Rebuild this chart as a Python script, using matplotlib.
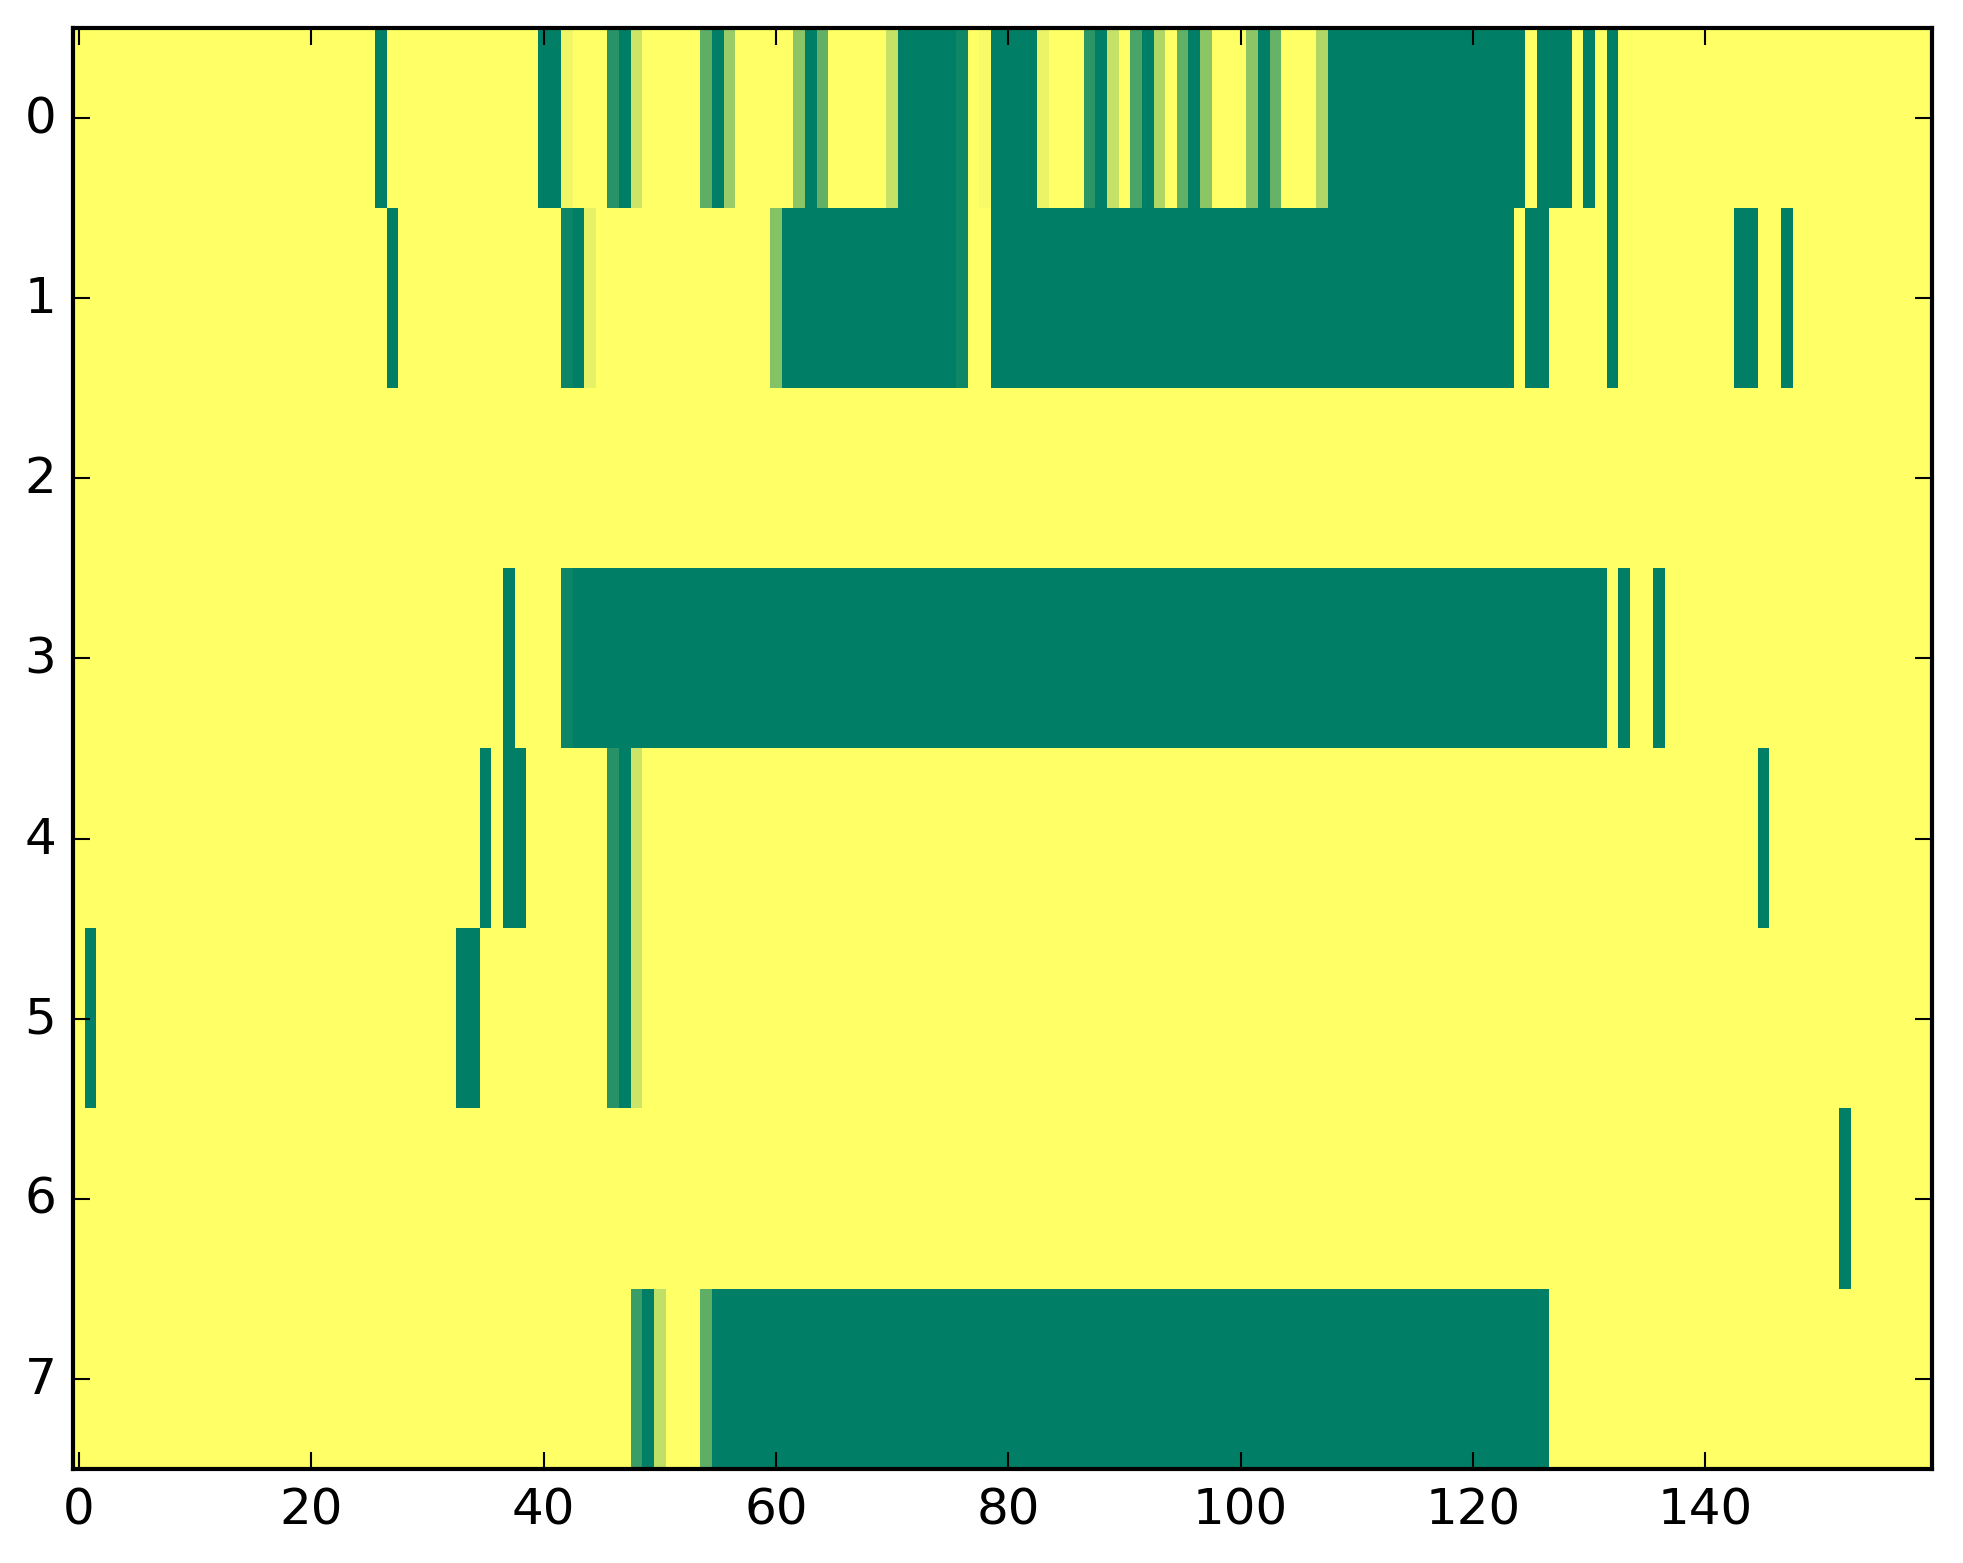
import numpy as np
import matplotlib
matplotlib.use("Agg")
import matplotlib.pyplot as plt

plt.style.use("classic")

n_rows = 8
n_cols = 160

# Runs of non-yellow cells per row: (first_col, last_col, value); all other cells = 1.0
row0_runs = [(26, 26, 0.0), (40, 41, 0.0), (42, 42, 0.94), (46, 46, 0.16), (47, 47, 0.0),
             (48, 48, 0.8), (54, 54, 0.37), (55, 55, 0.0), (56, 56, 0.6), (62, 62, 0.55),
             (63, 63, 0.0), (64, 64, 0.38), (70, 70, 0.77), (71, 75, 0.0), (76, 76, 0.06),
             (78, 78, 0.97), (79, 82, 0.0), (83, 83, 0.92), (87, 87, 0.17), (88, 88, 0.0),
             (89, 89, 0.77), (91, 91, 0.29), (92, 92, 0.0), (93, 93, 0.69), (95, 95, 0.38),
             (96, 96, 0.0), (97, 97, 0.55), (101, 101, 0.55), (102, 102, 0.0), (103, 103, 0.4),
             (107, 107, 0.69), (108, 124, 0.0), (126, 128, 0.0), (130, 130, 0.0), (132, 132, 0.0)]
row1_runs = [(27, 27, 0.0), (42, 42, 0.05), (43, 43, 0.0), (44, 44, 0.9), (60, 60, 0.52),
             (61, 75, 0.0), (76, 76, 0.06), (79, 123, 0.0), (125, 126, 0.0), (132, 132, 0.0),
             (143, 144, 0.0), (147, 147, 0.0)]
row2_runs = []
row3_runs = [(37, 37, 0.0), (42, 42, 0.05), (43, 131, 0.0), (133, 133, 0.0), (136, 136, 0.0)]
row4_runs = [(35, 35, 0.0), (37, 38, 0.0), (46, 46, 0.15), (47, 47, 0.0), (48, 48, 0.8),
             (145, 145, 0.0)]
row5_runs = [(1, 1, 0.0), (33, 34, 0.0), (46, 46, 0.15), (47, 47, 0.0), (48, 48, 0.8)]
row6_runs = [(152, 152, 0.0)]
row7_runs = [(48, 48, 0.23), (49, 49, 0.0), (50, 50, 0.75), (54, 54, 0.37), (55, 126, 0.0)]

all_runs = [row0_runs, row1_runs, row2_runs, row3_runs, row4_runs, row5_runs, row6_runs, row7_runs]

x_ticks = [0, 20, 40, 60, 80, 100, 120, 140]
y_ticks = [0, 1, 2, 3, 4, 5, 6, 7]

data = np.ones((n_rows, n_cols))
for r, runs in enumerate(all_runs):
    for a, b, v in runs:
        data[r, a:b + 1] = v

fig = plt.figure(figsize=(1963 / 300, 1564 / 300), dpi=300, facecolor="white")
ax = fig.add_axes([73 / 1963, 1 - 1470 / 1564, (1932 - 73) / 1963, (1470 - 29) / 1564])
ax.imshow(data, cmap="summer", vmin=0, vmax=1, aspect="auto", interpolation="nearest")
ax.set_xticks(x_ticks)
ax.set_yticks(y_ticks)
ax.set_xlim(-0.5, n_cols - 0.5)
ax.set_ylim(n_rows - 0.5, -0.5)
ax.tick_params(labelsize=12)
fig.savefig("out.png", dpi=300, facecolor="white")
